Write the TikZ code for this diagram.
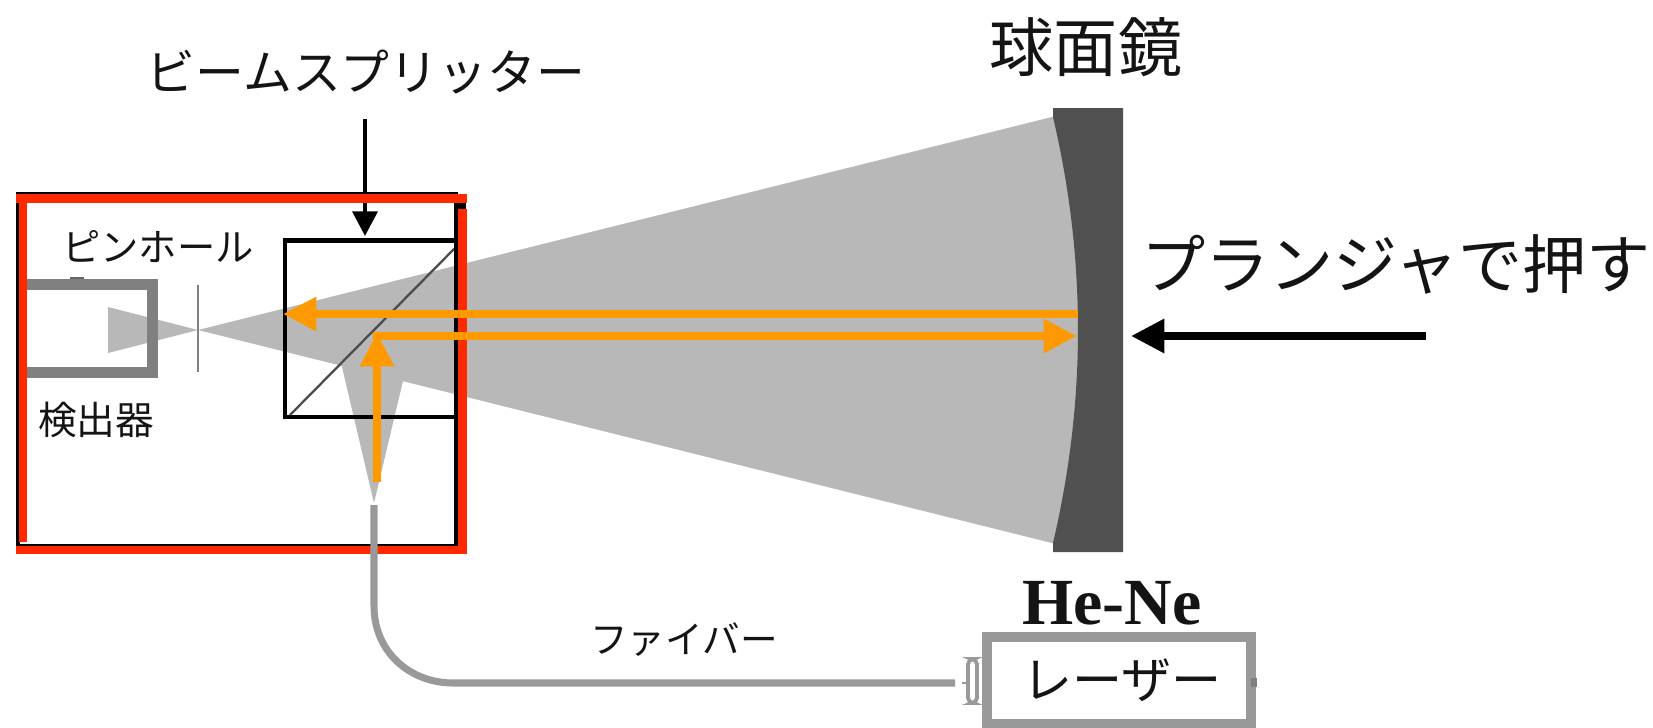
\documentclass[tikz,border=0pt]{standalone}
\usepackage{fontspec}
\usepackage{xcolor}
\usetikzlibrary{arrows.meta}
\setmainfont{Liberation Serif}
\newfontfamily\jpfont{Noto Sans CJK JP}
\definecolor{beamgrey}{HTML}{B8B8B8}
\definecolor{boxgrey}{HTML}{808080}
\definecolor{fibergrey}{HTML}{999999}
\definecolor{mirrorgrey}{HTML}{505050}
\definecolor{rayorange}{HTML}{FF9900}
\definecolor{framered}{HTML}{FF2A00}

\begin{document}
\begin{tikzpicture}[x=0.02cm, y=-0.02cm]
  % one unit is one pixel of the reference, y runs downwards
  \def\ax{198}    % beam waist at the pinhole
  \def\ay{330}

  \tikzset{
    lbl/.style={inner sep=0pt, text=black!92},
    bigray/.style={draw=rayorange, line width=4.5pt,
      -{Triangle[length=19pt, width=18.5pt]}},
    blackray/.style={draw=black, line width=4.5pt,
      -{Triangle[length=19pt, width=18.5pt]}},
    smallray/.style={draw=black, line width=2.6pt,
      -{Triangle[length=14pt, width=14pt]}},
    redbar/.style={fill=framered},
    optbox/.style={draw=black, line width=2.8pt},
    greybox/.style={draw=fibergrey, line width=5.8pt}}

  \useasboundingbox (0,0) rectangle (1653,727);

  % ---- 1. the light, as flat cones -----------------------------------------
  \fill[beamgrey] (\ax,\ay) -- (1080,110) -- (1080,550) -- cycle;
  \fill[beamgrey] (\ax,\ay) -- (108,307) -- (108,353) -- cycle;
  \fill[beamgrey] (374,503) -- (338,350) -- (408,360) -- cycle;

  % ---- 2. detector and pinhole ---------------------------------------------
  \draw[draw=boxgrey, line width=6pt]
    (27,284.5) -- (152.5,284.5) -- (152.5,372.5) -- (27,372.5);
  \fill[black!60] (70,277) rectangle (84,279);
  \draw[draw=boxgrey, line width=1.5pt] (198,285) -- (198,372);

  % ---- 3. splitter cube and housing ----------------------------------------
  \draw[optbox] (285,240.5) rectangle (456,417);
  \draw[draw=black!70, line width=1.3pt] (290,415) -- (455,248);
  \draw[optbox] (18,194) rectangle (456,546);

  \coordinate (splittop) at (365,119);
  \coordinate (splittip) at (365,236);
  \draw[smallray] (splittop) -- (splittip);

  \fill[black] (456,203) rectangle (466,209);
  \fill[redbar] (16,194) rectangle (467,203);
  \fill[redbar] (19,203) rectangle (27,542);
  \fill[redbar] (458,209) rectangle (467,550);
  \fill[redbar] (16,546) rectangle (467,554);

  % ---- 4. the mirror, its inner face bowed towards the beam -----------------
  \fill[mirrorgrey] (1053,108) -- (1053,117)
    .. controls (1086.3,259) and (1086.3,401) .. (1053,543)
    -- (1053,552) -- (1123,552) -- (1123,108) -- cycle;

  % ---- 5. fiber and laser ----------------------------------------------------
  \coordinate (fibertop) at (374,505);
  \coordinate (fiberend) at (955,683);
  \draw[draw=fibergrey, line width=4pt] (fibertop) -- (374,606)
    .. controls (374,652) and (410,683) .. (453,683) -- (fiberend);
  \draw[draw=fibergrey, line width=2.2pt, rounded corners=3pt]
    (968,659) rectangle (977,703);
  \draw[draw=fibergrey, line width=1pt] (962,683) -- (968,683);
  \draw[greybox] (987,637) rectangle (1251,724);
  \fill[boxgrey] (1251,678) rectangle (1257,687);

  % ---- 6. the rays go over everything ---------------------------------------
  \coordinate (backstart) at (1078,314);
  \coordinate (backtip) at (283,314);
  \draw[bigray] (backstart) -- (backtip);
  \coordinate (upstart) at (377,482);
  \coordinate (uptip) at (377,333);
  \draw[bigray] (upstart) -- (uptip);
  \coordinate (outstart) at (373,336);
  \coordinate (outtip) at (1077,336);
  \draw[bigray] (outstart) -- (outtip);

  \coordinate (pushstart) at (1426,336);
  \coordinate (pushtip) at (1131,336);
  \draw[blackray] (pushstart) -- (pushtip);

  % ---- 7. labels --------------------------------------------------------------
  \node[lbl, font=\jpfont\fontsize{27.8}{28}\selectfont] (splitter) at (366,72) {ビームスプリッター};
  \node[lbl, font=\jpfont\fontsize{36.5}{37}\selectfont] (mirror) at (1086,47) {球面鏡};
  \node[lbl, font=\jpfont\fontsize{36.5}{37}\selectfont] (plunger) at (1396,264) {プランジャで押す};
  \node[lbl, font=\jpfont\fontsize{21.8}{22}\selectfont] (pinhole) at (158,247) {ピンホール};
  \node[lbl, font=\jpfont\fontsize{22}{22}\selectfont] (detector) at (96,420) {検出器};
  \node[lbl, font=\jpfont\fontsize{21.4}{22}\selectfont] (fiber) at (684,640) {ファイバー};
  \node[lbl, font=\fontsize{37.5}{38}\selectfont\bfseries] (hene) at (1112,603) {He-Ne};
  \node[lbl, font=\jpfont\fontsize{28.5}{29}\selectfont] (laser) at (1122,680) {レーザー};
\end{tikzpicture}
\end{document}
